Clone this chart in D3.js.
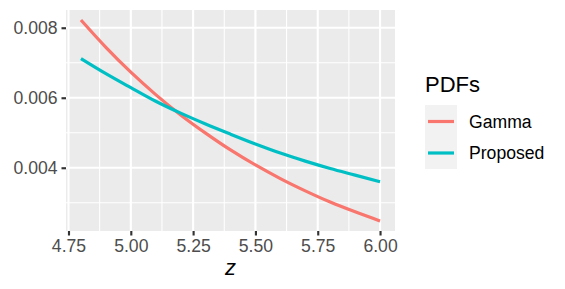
<!DOCTYPE html>
<html>
<head>
<meta charset="utf-8">
<script src="https://cdn.jsdelivr.net/npm/d3@7"></script>
<style>
  body { margin: 0; background: #fff; }
  svg text { font-family: "Liberation Sans", Arial, Helvetica, sans-serif; }
</style>
</head>
<body>
<svg id="chart" width="565" height="289"></svg>
<script>
// values
var zValues = [4.8, 4.9, 5.0, 5.1, 5.2, 5.3, 5.4, 5.5, 5.6, 5.7, 5.8, 5.9, 6.0];
var gammaPdf = [0.00822, 0.00744, 0.00673, 0.00609, 0.00551, 0.00499, 0.00451,
                0.00408, 0.00369, 0.00334, 0.00302, 0.00274, 0.00248];
var proposedPdf = [0.00712, 0.00669, 0.00629, 0.00590, 0.00556, 0.00525, 0.00496,
                   0.00468, 0.00442, 0.00419, 0.00398, 0.00379, 0.00360];
var seriesNames = ["Gamma", "Proposed"];
var seriesColors = ["#F8766D", "#00BFC4"];
var xTicks = [4.75, 5.00, 5.25, 5.50, 5.75, 6.00];
var xMinor = [4.875, 5.125, 5.375, 5.625, 5.875];
var yTicks = [0.004, 0.006, 0.008];
var yMinor = [0.003, 0.005, 0.007];

var svg = d3.select("#chart");

// panel box (not "top": that is window.top)
var pLeft = 66, pRight = 395, pTop = 10, pBottom = 231;

// ggplot style 5% expansion
var xr = d3.extent(zValues), xpad = (xr[1] - xr[0]) * 0.05;
var allY = gammaPdf.concat(proposedPdf);
var yr = d3.extent(allY), ypad = (yr[1] - yr[0]) * 0.05;

var x = d3.scaleLinear().domain([xr[0] - xpad, xr[1] + xpad]).range([pLeft, pRight]);
var y = d3.scaleLinear().domain([yr[0] - ypad, yr[1] + ypad]).range([pBottom, pTop]);

// background
svg.append("rect")
   .attr("x", pLeft).attr("y", pTop)
   .attr("width", pRight - pLeft).attr("height", pBottom - pTop)
   .attr("fill", "#EBEBEB");

var grid = svg.append("g");
// minor grid
grid.selectAll(".vmin").data(xMinor).enter().append("line")
    .attr("x1", d => x(d)).attr("x2", d => x(d))
    .attr("y1", pTop).attr("y2", pBottom)
    .attr("stroke", "#fff").attr("stroke-width", 1.07);
grid.selectAll(".hmin").data(yMinor).enter().append("line")
    .attr("x1", pLeft).attr("x2", pRight)
    .attr("y1", d => y(d)).attr("y2", d => y(d))
    .attr("stroke", "#fff").attr("stroke-width", 1.07);
// major grid
grid.selectAll(".vmaj").data(xTicks).enter().append("line")
    .attr("x1", d => x(d)).attr("x2", d => x(d))
    .attr("y1", pTop).attr("y2", pBottom)
    .attr("stroke", "#fff").attr("stroke-width", 2.13);
grid.selectAll(".hmaj").data(yTicks).enter().append("line")
    .attr("x1", pLeft).attr("x2", pRight)
    .attr("y1", d => y(d)).attr("y2", d => y(d))
    .attr("stroke", "#fff").attr("stroke-width", 2.13);

// lines
var line = d3.line()
    .x(function(d) { return x(d[0]); })
    .y(function(d) { return y(d[1]); })
    .curve(d3.curveMonotoneX);

var series = [gammaPdf, proposedPdf];
series.forEach(function(vals, i) {
  svg.append("path")
     .datum(zValues.map(function(z, j) { return [z, vals[j]]; }))
     .attr("d", line)
     .attr("fill", "none")
     .attr("stroke", seriesColors[i])
     .attr("stroke-width", 3.2)
     .attr("stroke-linecap", "butt");
});

// axes
var xAxis = svg.append("g")
    .attr("transform", "translate(0," + pBottom + ")")
    .call(d3.axisBottom(x).tickValues(xTicks).tickFormat(d3.format(".2f"))
          .tickSize(4.5).tickPadding(4));
var yAxis = svg.append("g")
    .attr("transform", "translate(" + pLeft + ",0)")
    .call(d3.axisLeft(y).tickValues(yTicks).tickFormat(d3.format(".3f"))
          .tickSize(4.5).tickPadding(4));

[xAxis, yAxis].forEach(function(a) {
  a.select(".domain").remove();
  a.selectAll(".tick line").attr("stroke", "#333333").attr("stroke-width", 2.13);
  a.selectAll(".tick text").attr("fill", "#4D4D4D").style("font-size", "17.6px");
});

// axis title
svg.append("text")
   .attr("x", (pLeft + pRight) / 2).attr("y", 275)
   .attr("text-anchor", "middle")
   .style("font-size", "22px").style("font-style", "italic")
   .attr("fill", "#000")
   .text("z");

// legend
var legend = svg.append("g");
legend.append("text")
   .attr("x", 425).attr("y", 92)
   .style("font-size", "22px").attr("fill", "#000")
   .text("PDFs");

legend.append("rect")
   .attr("x", 425).attr("y", 105)
   .attr("width", 32).attr("height", 64)
   .attr("fill", "#F2F2F2");

seriesNames.forEach(function(name, i) {
  var cy = 121.5 + i * 31.5;
  legend.append("line")
     .attr("x1", 428).attr("x2", 454)
     .attr("y1", cy).attr("y2", cy)
     .attr("stroke", seriesColors[i]).attr("stroke-width", 3.2);
  legend.append("text")
     .attr("x", 469).attr("y", cy)
     .attr("dy", "0.35em")
     .style("font-size", "17.6px").attr("fill", "#000")
     .text(name);
});
</script>
</body>
</html>
